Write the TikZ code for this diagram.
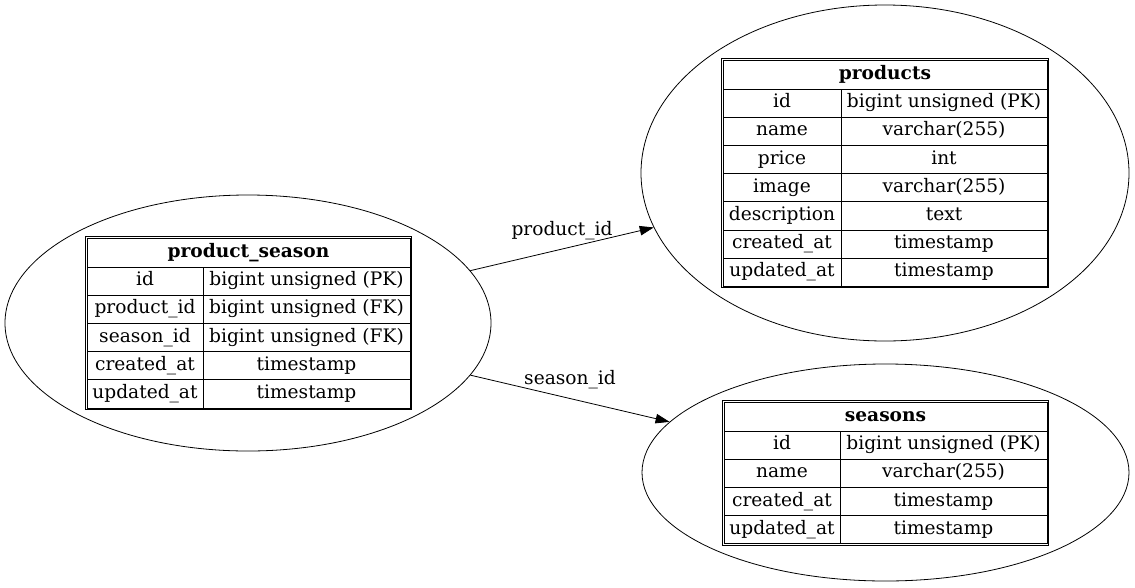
\documentclass[tikz,border=0pt]{standalone}
\usepackage{fontspec}
\setmainfont{DejaVu Serif}
\usetikzlibrary{shapes.geometric,arrows.meta}
\tikzset{
  ent/.style={draw, ellipse, line width=0.8pt, inner sep=0},
  cellline/.style={line width=0.9pt},
  outerline/.style={line width=1.1pt},
  cell/.style={inner sep=0, text height=13pt, text depth=4pt, font=\fontsize{18.6}{22}\selectfont},
  hdr/.style={cell, font=\fontsize{18.6}{22}\selectfont\bfseries},
  rel/.style={line width=0.8pt, -{Triangle[length=14pt,width=9.5pt]}},
  lbl/.style={inner sep=0, font=\fontsize{18.6}{22}\selectfont},
}
% #1 left, #2 divider, #3 right, #4 top, #5 number of rows, #6 title, #7 rows, #8 name
\newcommand{\dbtable}[8]{%
  \pgfmathsetmacro{\tbot}{#4+29+#5*28.2}%
  \draw[outerline] (#1-1.5,#4-1.5) rectangle (#3+1.5,\tbot+1.5);
  \draw[cellline] (#1,#4) rectangle (#3,\tbot);
  \draw[cellline] (#2,#4+29) -- (#2,\tbot);
  \node[hdr] (#8-h) at ({(#1+#3)/2},#4+14.5) {#6};
  \foreach \a/\b [count=\i] in {#7} {
    \draw[cellline] (#1,{#4+29+(\i-1)*28.2}) -- (#3,{#4+29+(\i-1)*28.2});
    \node[cell] (#8-\i a) at ({(#1+#2)/2},{#4+29+(\i-0.5)*28.2}) {\a};
    \node[cell] (#8-\i b) at ({(#2+#3)/2},{#4+29+(\i-0.5)*28.2}) {\b};
  }
}
\begin{document}
\begin{tikzpicture}[x=1pt,y=-1pt]
\useasboundingbox (0,0) rectangle (1135,587);
\node[ent, minimum width=486pt, minimum height=256pt] (ps) at (248,323) {};
\node[ent, minimum width=488pt, minimum height=336pt] (prod) at (885,173) {};
\node[ent, minimum width=487pt, minimum height=217pt] (seas) at (885.5,472.5) {};

\dbtable{87}{203}{410}{238}{5}{product\_season}{id/bigint unsigned (PK), product\_id/bigint unsigned (FK), season\_id/bigint unsigned (FK), created\_at/timestamp, updated\_at/timestamp}{pst}
\dbtable{723}{841}{1047}{60}{7}{products}{id/bigint unsigned (PK), name/varchar(255), price/int, image/varchar(255), description/text, created\_at/timestamp, updated\_at/timestamp}{prt}
\dbtable{724}{840}{1047}{402}{4}{seasons}{id/bigint unsigned (PK), name/varchar(255), created\_at/timestamp, updated\_at/timestamp}{set}

\draw[rel] (ps) -- (prod) node[lbl, midway, above=9pt] (l1) {product\_id};
\draw[rel] (ps) -- (seas) node[lbl, midway, above=9pt] (l2) {season\_id};
\end{tikzpicture}
\end{document}
